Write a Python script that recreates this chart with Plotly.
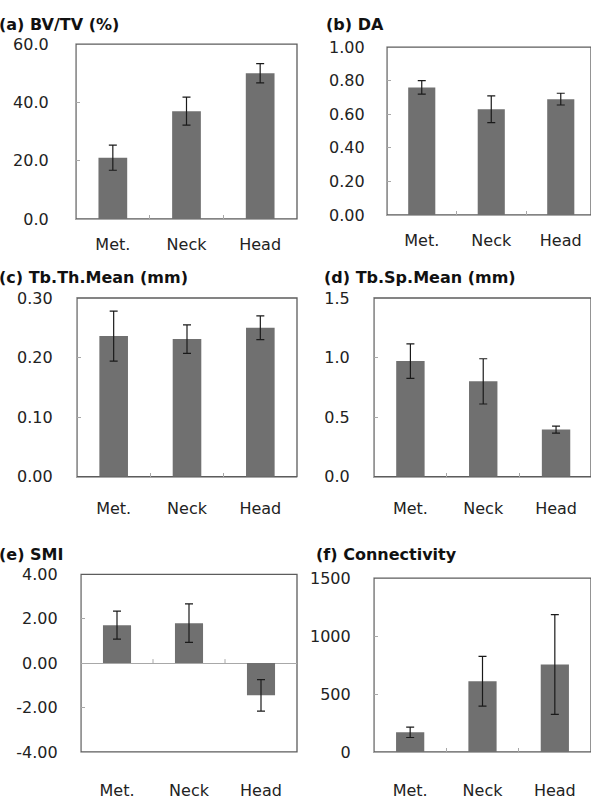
import plotly.graph_objects as go

# ---- data -------------------------------------------------------------
categories = ["Met.", "Neck", "Head"]

bvtv_mean = [21.0, 37.0, 50.0]
bvtv_sd = [4.3, 4.8, 3.3]

da_mean = [0.76, 0.63, 0.69]
da_sd = [0.04, 0.08, 0.035]

tbth_mean = [0.236, 0.231, 0.250]
tbth_sd = [0.042, 0.024, 0.020]

tbsp_mean = [0.97, 0.80, 0.395]
tbsp_sd = [0.145, 0.19, 0.03]

smi_mean = [1.71, 1.80, -1.45]
smi_sd = [0.63, 0.87, 0.71]

conn_mean = [170, 610, 755]
conn_sd = [45, 215, 430]

panel_titles = ["(a) BV/TV (%)", "(b) DA", "(c) Tb.Th.Mean (mm)",
                "(d) Tb.Sp.Mean (mm)", "(e) SMI", "(f) Connectivity"]

bvtv_ticks = [0, 20, 40, 60]
da_ticks = [0, 0.2, 0.4, 0.6, 0.8, 1.0]
tbth_ticks = [0, 0.1, 0.2, 0.3]
tbsp_ticks = [0, 0.5, 1.0, 1.5]
smi_ticks = [-4, -2, 0, 2, 4]
conn_ticks = [0, 500, 1000, 1500]

# ---- layout -----------------------------------------------------------
W, H = 591, 802
BAR = "#707070"
FRAME = "#5c5c5c"
AXIS = "#a8a8a8"
FONT = "DejaVu Sans"

# (mean, sd, ticks, tick format, plot box px [left, right, top, bottom],
#  x range upper end, title position px [x, y], y-label standoff,
#  category-label standoff)
panels = [
    (bvtv_mean, bvtv_sd, bvtv_ticks, ".1f", [76, 297, 36, 215], 2.5, [-3, 16], 23, 11),
    (da_mean, da_sd, da_ticks, ".2f", [387, 591, 39, 211], 2.435, [324, 16], 18, 11),
    (tbth_mean, tbth_sd, tbth_ticks, ".2f", [77, 297, 296, 479], 2.5, [-3, 275], 20, 17),
    (tbsp_mean, tbsp_sd, tbsp_ticks, ".1f", [374, 591, 296, 479], 2.48, [322, 275], 20, 17),
    (smi_mean, smi_sd, smi_ticks, ".2f", [81, 297, 579, 761], 2.5, [-3, 559], 19, 27),
    (conn_mean, conn_sd, conn_ticks, "d", [374, 591, 583, 761], 2.5, [314, 559], 19, 24),
]

fig = go.Figure()
layout = {}
shapes = []
annotations = []

for i, (mean, sd, ticks, fmt, box, xmax, tpos, ystand, xstand) in enumerate(panels):
    n = "" if i == 0 else str(i + 1)
    xa, ya = "x" + n, "y" + n
    fig.add_trace(go.Bar(
        x=categories, y=mean, xaxis=xa, yaxis=ya, width=0.39,
        marker=dict(color=BAR, line=dict(width=0)),
        error_y=dict(type="data", array=sd, visible=True,
                     color="#1a1a1a", thickness=1.2, width=4),
        showlegend=False,
    ))
    left, right, top, bottom = box
    is_smi = i == 4
    ticktext = [format(t, fmt) for t in ticks]
    layout["xaxis" + n] = dict(
        domain=[left / W, right / W], anchor=ya,
        type="category", range=[-0.5, xmax],
        showline=not is_smi, linecolor=AXIS, linewidth=1.2,
        ticks="inside", tickson="boundaries",
        ticklen=4, tickcolor="rgba(0,0,0,0)" if is_smi else AXIS, tickwidth=1,
        ticklabelstandoff=xstand,
        tickfont=dict(family=FONT, size=16, color="#222222"),
        showgrid=False, zeroline=False, fixedrange=True,
    )
    layout["yaxis" + n] = dict(
        domain=[1 - bottom / H, 1 - top / H], anchor=xa,
        range=[ticks[0], ticks[-1]],
        tickvals=ticks, ticktext=ticktext,
        showline=True, linecolor=AXIS, linewidth=1.2,
        ticks="inside", ticklen=4, tickcolor=AXIS, tickwidth=1,
        ticklabelstandoff=ystand,
        tickfont=dict(family=FONT, size=16, color="#222222"),
        showgrid=False,
        zeroline=is_smi, zerolinecolor=AXIS, zerolinewidth=1.2,
        fixedrange=True,
    )
    # plot-area border
    shapes.append(dict(
        type="rect", xref=xa + " domain", yref=ya + " domain",
        x0=0, x1=1, y0=0, y1=1, layer="below",
        line=dict(color=FRAME, width=1.3),
    ))
    if is_smi:
        # category boundary ticks along the zero line
        for b in (0.5, 1.5):
            shapes.append(dict(
                type="line", xref=xa, yref=ya, ysizemode="pixel",
                yanchor=0, x0=b, x1=b, y0=0, y1=4,
                line=dict(color=AXIS, width=1),
            ))
    annotations.append(dict(
        text="<b>" + panel_titles[i] + "</b>",
        xref="paper", yref="paper", x=tpos[0] / W, y=1 - tpos[1] / H,
        xanchor="left", yanchor="middle", showarrow=False,
        font=dict(family=FONT, size=16, color="#111111"),
    ))

fig.update_layout(
    width=W, height=H,
    margin=dict(l=0, r=0, t=0, b=0),
    paper_bgcolor="white", plot_bgcolor="white",
    shapes=shapes, annotations=annotations,
    **layout,
)

fig.write_html("out.html", config={"displayModeBar": False})
